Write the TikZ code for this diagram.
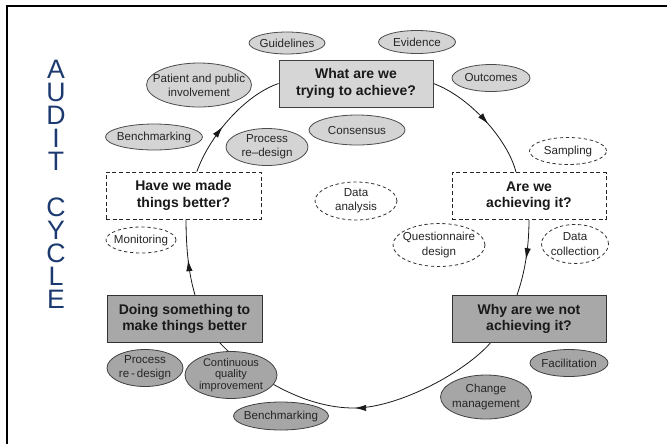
\documentclass[tikz,border=0pt]{standalone}
\usepackage{fontspec}
\setmainfont{Liberation Sans}
\usetikzlibrary{shapes.geometric,arrows.meta,decorations.markings}
\pgfdeclarelayer{bg}
\pgfsetlayers{bg,main}
\definecolor{auditblue}{RGB}{28,58,112}
\begin{document}
\begin{tikzpicture}[x=0.75pt,y=-0.75pt,
  box/.style={rectangle, inner sep=0pt, minimum width=154*0.75pt, minimum height=47*0.75pt,
    align=center, font=\bfseries\fontsize{10.5}{12.5}\selectfont, text=black!90},
  lightbox/.style={box, draw=black!75, fill=black!16, line width=0.7pt},
  darkbox/.style={box, draw=black!80, fill=black!34, line width=0.7pt},
  dashbox/.style={box, draw=black!85, fill=white, line width=0.6pt, dash pattern=on 3pt off 2pt},
  oval/.style 2 args={ellipse, inner sep=0pt, minimum width=#1*0.75pt, minimum height=#2*0.75pt, line width=0.6pt},
  lell/.style={draw=black!70, fill=black!17},
  dell/.style={draw=black!80, fill=white, dash pattern=on 2.5pt off 2pt},
  gell/.style={draw=black!75, fill=black!35},
  etext/.style={align=center, inner sep=0pt, font=\fontsize{8.7}{10.6}\selectfont, text=black!85},
  title/.style={font=\fontsize{20}{17.25}\selectfont, text=auditblue, inner sep=0pt, align=center, anchor=north},
  conn/.style={line width=0.6pt, draw=black!90, postaction={decorate},
    decoration={markings, mark=at position #1 with {\arrow{Latex[length=8.5pt,width=4.8pt]}}}},
  conn/.default=0.5
]
\useasboundingbox (0,0) rectangle (667,444);
% frame (top and left edges visible)
\draw[line width=1.9pt, line join=miter] (7,444) -- (7,6) -- (667,6);

% title
\node[title] (title) at (56,60) {A\\U\\D\\I\\T\\[17.25pt]C\\Y\\C\\L\\E};

% main boxes
\node[lightbox] (what) at (356,83.5) {What are we\\trying to achieve?};
\node[dashbox] (are) at (529,196) {Are we\\achieving it?};
\node[darkbox] (why) at (529,319) {Why are we not\\achieving it?};
\node[darkbox, minimum width=155*0.75pt] (doing) at (184.5,319) {Doing something to\\make things better};
\node[dashbox, minimum width=155*0.75pt] (have) at (183.5,195.5) {Have we made\\things better?};

% ellipses
\node[oval={76}{22}, lell] (guide) at (287,43) {};
\node[etext] (guideT) at (guide) {Guidelines};
\node[oval={77}{23}, lell] (evid) at (417,42) {};
\node[etext] (evidT) at (evid) {Evidence};
\node[oval={78}{27}, lell] (outc) at (491,78) {};
\node[etext] (outcT) at (outc) {Outcomes};
\node[oval={105}{44}, lell] (pat) at (199,85) {};
\node[etext] (patT) at (pat) {Patient and public\\involvement};
\node[oval={96}{30}, lell] (cons) at (357,130) {};
\node[etext] (consT) at (cons) {Consensus};
\node[oval={97}{26}, lell] (benchA) at (154,137) {};
\node[etext] (benchAT) at (benchA) {Benchmarking};
\node[oval={82}{37}, lell] (procA) at (267,147) {};
\node[etext] (procAT) at (procA) {Process\\re--design};

\node[oval={70}{26}, dell] (mon) at (141,240) {};
\node[etext] (monT) at (mon) {Monitoring};
\node[oval={82}{38}, dell] (dana) at (356,201) {};
\node[etext] (danaT) at (dana) {Data\\analysis};
\node[oval={77}{27}, dell] (samp) at (568,151) {};
\node[etext] (sampT) at (samp) {Sampling};
\node[oval={92}{43}, dell] (qdes) at (439,245) {};
\node[etext] (qdesT) at (qdes) {Questionnaire\\design};
\node[oval={67}{39}, dell] (dcol) at (575,244) {};
\node[etext] (dcolT) at (dcol) {Data\\collection};

\node[oval={78}{27}, gell] (fac) at (569,363) {};
\node[etext] (facT) at (fac) {Facilitation};
\node[oval={91}{44}, gell] (chg) at (486,397) {};
\node[etext] (chgT) at (chg) {Change\\management};
\node[oval={76}{37}, gell] (procB) at (145,368) {};
\node[etext] (procBT) at (procB) {Process\\re\,-\,design};
\node[oval={92}{47}, gell] (cqi) at (231,375) {};
\node[etext, font=\fontsize{8.3}{8.6}\selectfont] (cqiT) at (cqi) {Continuous\\quality\\improvement};
\node[oval={95}{28}, gell] (benchB) at (281,416) {};
\node[etext] (benchBT) at (benchB) {Benchmarking};

% cycle connectors
\begin{pgfonlayer}{bg}
\draw[conn=0.55] (what.east) .. controls (470,97) and (508,140) .. ([xshift=-9.75pt]are.north);
\draw[conn=0.52] (are.south) .. controls (529,250) and (524,275) .. ([xshift=-9pt]why.north);
\draw[conn=0.5] ([xshift=-29pt]why.south) .. controls (465,372) and (400,407) .. (356,408)
   .. controls (300,409) and (245,370) .. ([xshift=26.6pt]doing.south);
\draw[conn=0.47] ([xshift=7.9pt]doing.north) .. controls (189,275) and (186,250) .. ([xshift=1.9pt]have.south);
\draw[conn=0.42] ([xshift=10pt]have.north) .. controls (210,135) and (245,95) .. (what.west);
\end{pgfonlayer}
\end{tikzpicture}
\end{document}
